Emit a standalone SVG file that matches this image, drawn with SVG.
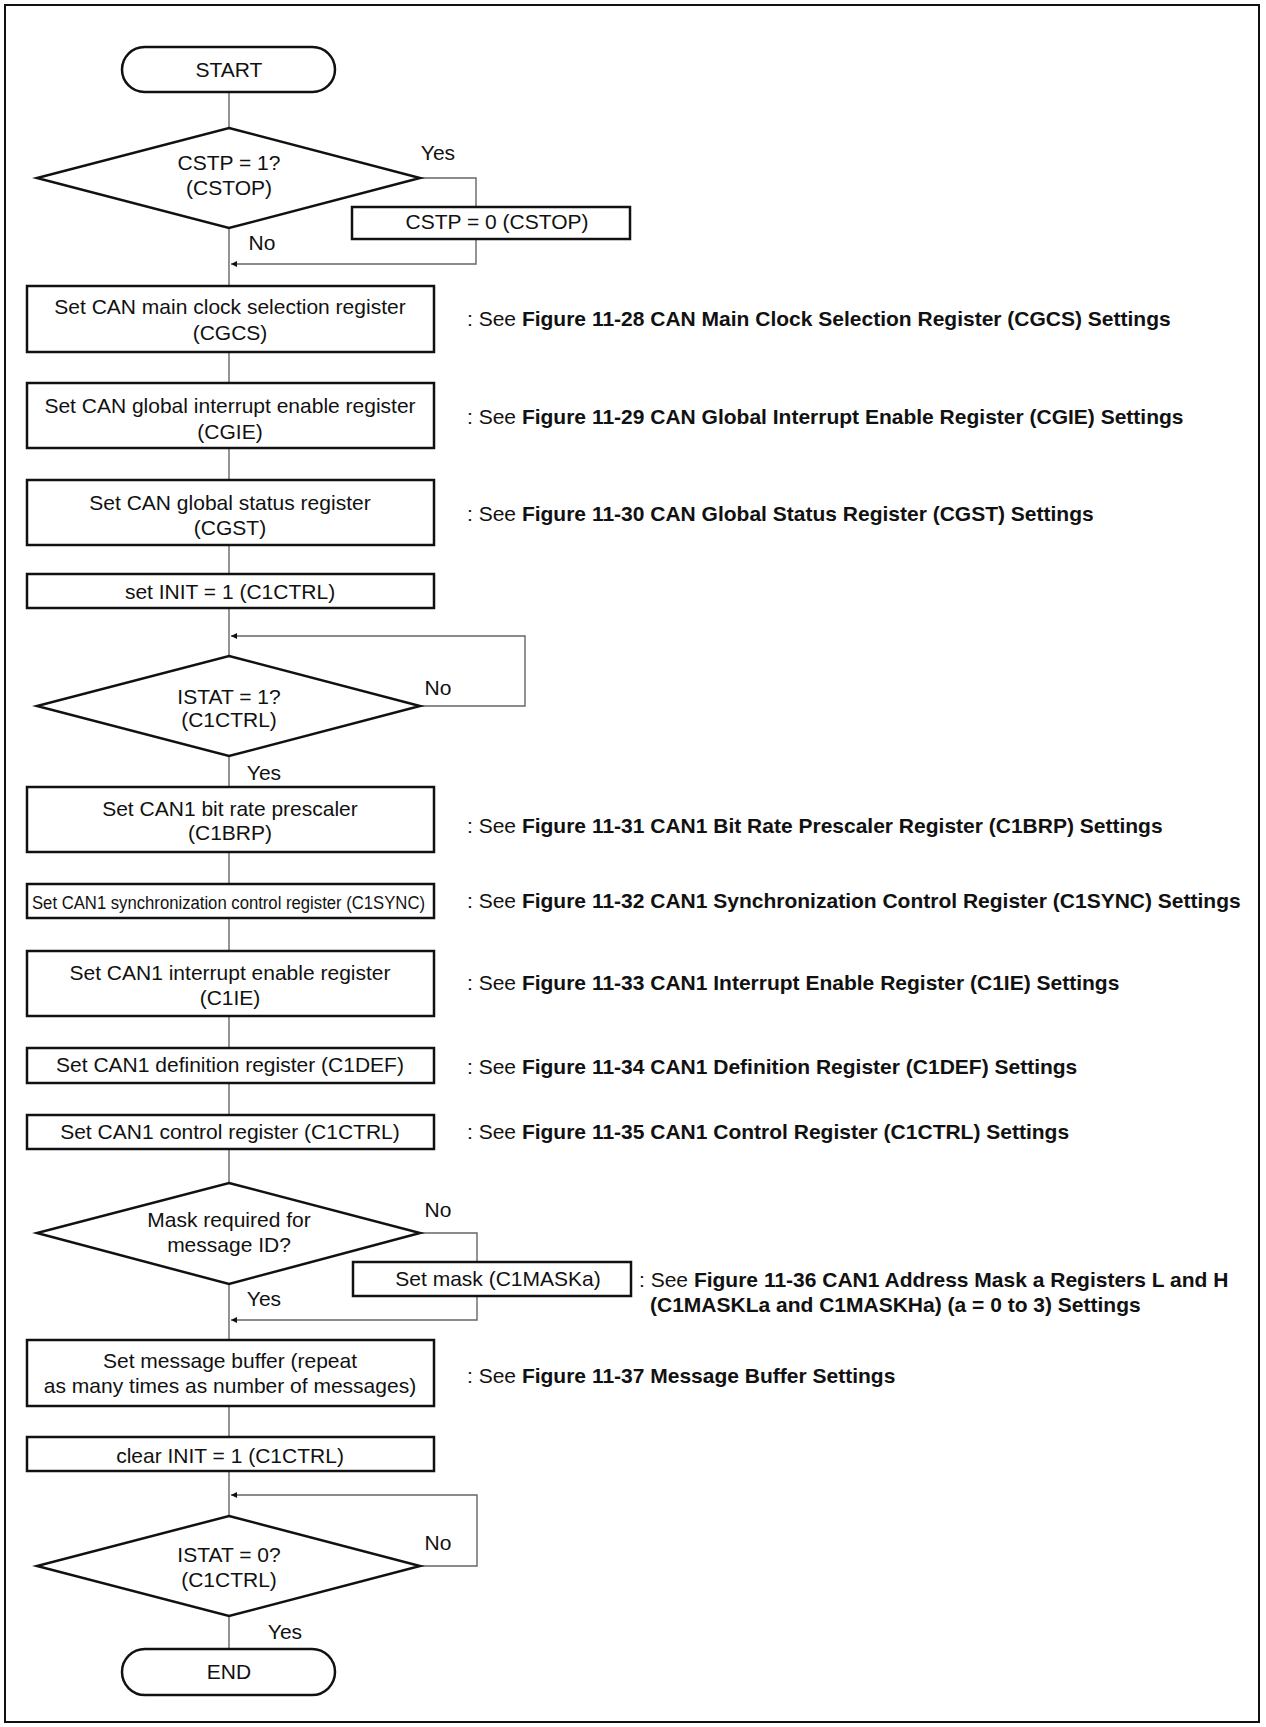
<svg xmlns="http://www.w3.org/2000/svg" width="1266" height="1727" viewBox="0 0 1266 1727">
<defs>
<style>
.box{fill:#fff;stroke:#111;stroke-width:2.5}
.con{fill:none;stroke:#666;stroke-width:1.4}
text{font-family:"Liberation Sans",Arial,sans-serif;font-size:21px;fill:#111}
.c{text-anchor:middle}
.b{font-weight:bold}
</style>
<marker id="arr" viewBox="0 0 10 10" refX="10" refY="5" markerWidth="12" markerHeight="6" markerUnits="userSpaceOnUse" orient="auto">
<path d="M0,0 L10,5 L0,10 z" fill="#111"/>
</marker>
</defs>
<rect x="5" y="5" width="1254" height="1717" fill="#fff" stroke="#111" stroke-width="2"/>

<g id="connectors">
<line class="con" x1="229" y1="92" x2="229" y2="128"/>
<polyline class="con" points="420,178 476,178 476,207"/>
<polyline class="con" points="476,239 476,264 231,264" marker-end="url(#arr)"/>
<line class="con" x1="229" y1="228" x2="229" y2="286"/>
<line class="con" x1="229" y1="352" x2="229" y2="383"/>
<line class="con" x1="229" y1="448" x2="229" y2="480"/>
<line class="con" x1="229" y1="545" x2="229" y2="574"/>
<line class="con" x1="229" y1="608" x2="229" y2="656"/>
<polyline class="con" points="420,706 525,706 525,636 231,636" marker-end="url(#arr)"/>
<line class="con" x1="229" y1="756" x2="229" y2="787"/>
<line class="con" x1="229" y1="852" x2="229" y2="884"/>
<line class="con" x1="229" y1="918" x2="229" y2="951"/>
<line class="con" x1="229" y1="1016" x2="229" y2="1048"/>
<line class="con" x1="229" y1="1083" x2="229" y2="1115"/>
<line class="con" x1="229" y1="1149" x2="229" y2="1183"/>
<polyline class="con" points="420,1233 477,1233 477,1262"/>
<polyline class="con" points="477,1296 477,1320 231,1320" marker-end="url(#arr)"/>
<line class="con" x1="229" y1="1284" x2="229" y2="1340"/>
<line class="con" x1="229" y1="1406" x2="229" y2="1437"/>
<line class="con" x1="229" y1="1471" x2="229" y2="1516"/>
<polyline class="con" points="420,1566 477,1566 477,1495 231,1495" marker-end="url(#arr)"/>
<line class="con" x1="229" y1="1616" x2="229" y2="1649"/>
</g>

<g id="start">
<rect class="box" x="122" y="47" width="213" height="45" rx="22.5"/>
<text class="c" x="229" y="77">START</text>
</g>

<g id="d_cstp">
<polygon class="box" points="229,128 420,178 229,228 37,178"/>
<text class="c" x="229" y="170">CSTP = 1?</text>
<text class="c" x="229" y="195">(CSTOP)</text>
<text class="c" x="438" y="160">Yes</text>
<text class="c" x="262" y="250">No</text>
</g>

<g id="cstp0">
<rect class="box" x="352" y="207" width="278" height="32"/>
<text class="c" x="497" y="229">CSTP = 0 (CSTOP)</text>
</g>

<g id="cgcs">
<rect class="box" x="27" y="286" width="407" height="66"/>
<text class="c" x="230" y="314">Set CAN main clock selection register</text>
<text class="c" x="230" y="340">(CGCS)</text>
<text x="467" y="326">: See <tspan class="b">Figure 11-28 CAN Main Clock Selection Register (CGCS) Settings</tspan></text>
</g>

<g id="cgie">
<rect class="box" x="27" y="383" width="407" height="65"/>
<text class="c" x="230" y="413">Set CAN global interrupt enable register</text>
<text class="c" x="230" y="439">(CGIE)</text>
<text x="467" y="424">: See <tspan class="b">Figure 11-29 CAN Global Interrupt Enable Register (CGIE) Settings</tspan></text>
</g>

<g id="cgst">
<rect class="box" x="27" y="480" width="407" height="65"/>
<text class="c" x="230" y="510">Set CAN global status register</text>
<text class="c" x="230" y="535">(CGST)</text>
<text x="467" y="521">: See <tspan class="b">Figure 11-30 CAN Global Status Register (CGST) Settings</tspan></text>
</g>

<g id="init1">
<rect class="box" x="27" y="574" width="407" height="34"/>
<text class="c" x="230" y="599">set INIT = 1 (C1CTRL)</text>
</g>

<g id="d_istat1">
<polygon class="box" points="229,656 420,706 229,756 37,706"/>
<text class="c" x="229" y="704">ISTAT = 1?</text>
<text class="c" x="229" y="727">(C1CTRL)</text>
<text class="c" x="438" y="695">No</text>
<text class="c" x="264" y="780">Yes</text>
</g>

<g id="c1brp">
<rect class="box" x="27" y="787" width="407" height="65"/>
<text class="c" x="230" y="816">Set CAN1 bit rate prescaler</text>
<text class="c" x="230" y="840">(C1BRP)</text>
<text x="467" y="833">: See <tspan class="b">Figure 11-31 CAN1 Bit Rate Prescaler Register (C1BRP) Settings</tspan></text>
</g>

<g id="c1sync">
<rect class="box" x="27" y="884" width="407" height="34"/>
<text x="32" y="909" style="font-size:18px" textLength="393" lengthAdjust="spacingAndGlyphs">Set CAN1 synchronization control register (C1SYNC)</text>
<text x="467" y="908">: See <tspan class="b">Figure 11-32 CAN1 Synchronization Control Register (C1SYNC) Settings</tspan></text>
</g>

<g id="c1ie">
<rect class="box" x="27" y="951" width="407" height="65"/>
<text class="c" x="230" y="980">Set CAN1 interrupt enable register</text>
<text class="c" x="230" y="1005">(C1IE)</text>
<text x="467" y="990">: See <tspan class="b">Figure 11-33 CAN1 Interrupt Enable Register (C1IE) Settings</tspan></text>
</g>

<g id="c1def">
<rect class="box" x="27" y="1048" width="407" height="35"/>
<text class="c" x="230" y="1072">Set CAN1 definition register (C1DEF)</text>
<text x="467" y="1074">: See <tspan class="b">Figure 11-34 CAN1 Definition Register (C1DEF) Settings</tspan></text>
</g>

<g id="c1ctrl">
<rect class="box" x="27" y="1115" width="407" height="34"/>
<text class="c" x="230" y="1139">Set CAN1 control register (C1CTRL)</text>
<text x="467" y="1139">: See <tspan class="b">Figure 11-35 CAN1 Control Register (C1CTRL) Settings</tspan></text>
</g>

<g id="d_mask">
<polygon class="box" points="229,1183 420,1233 229,1284 37,1233"/>
<text class="c" x="229" y="1227">Mask required for</text>
<text class="c" x="229" y="1252">message ID?</text>
<text class="c" x="438" y="1217">No</text>
<text class="c" x="264" y="1306">Yes</text>
</g>

<g id="setmask">
<rect class="box" x="353" y="1262" width="278" height="34"/>
<text class="c" x="498" y="1286">Set mask (C1MASKa)</text>
<text x="639" y="1287">: See <tspan class="b">Figure 11-36 CAN1 Address Mask a Registers L and H</tspan></text>
<text x="650" y="1312" class="b">(C1MASKLa and C1MASKHa) (a = 0 to 3) Settings</text>
</g>

<g id="msgbuf">
<rect class="box" x="27" y="1340" width="407" height="66"/>
<text class="c" x="230" y="1368">Set message buffer (repeat</text>
<text class="c" x="230" y="1393">as many times as number of messages)</text>
<text x="467" y="1383">: See <tspan class="b">Figure 11-37 Message Buffer Settings</tspan></text>
</g>

<g id="init0">
<rect class="box" x="27" y="1437" width="407" height="34"/>
<text class="c" x="230" y="1463">clear INIT = 1 (C1CTRL)</text>
</g>

<g id="d_istat0">
<polygon class="box" points="229,1516 420,1566 229,1616 37,1566"/>
<text class="c" x="229" y="1562">ISTAT = 0?</text>
<text class="c" x="229" y="1587">(C1CTRL)</text>
<text class="c" x="438" y="1550">No</text>
<text class="c" x="285" y="1639">Yes</text>
</g>

<g id="end">
<rect class="box" x="122" y="1649" width="213" height="46" rx="23"/>
<text class="c" x="229" y="1679">END</text>
</g>
</svg>
